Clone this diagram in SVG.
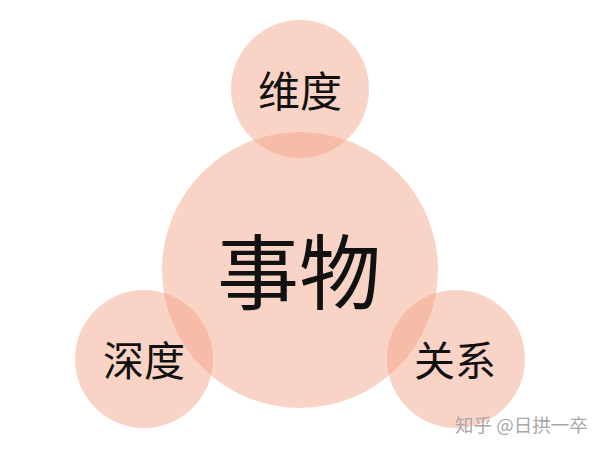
<svg xmlns="http://www.w3.org/2000/svg" width="600" height="450" viewBox="0 0 600 450">
<style>
.c{fill:#f2a485;fill-opacity:0.48}
.t{font-family:"Noto Sans CJK SC","Noto Sans CJK JP",sans-serif;fill:#111;text-anchor:middle;dominant-baseline:central}
.w{font-family:"Noto Sans CJK SC",sans-serif;fill:#a8a8a8;font-size:18.5px}
</style>
<rect width="600" height="450" fill="#ffffff"/>
<g id="connectors"></g>
<g id="node-main"><circle class="c" cx="300" cy="270" r="138"/></g>
<g id="node-top"><circle class="c" cx="300" cy="89" r="69"/><text class="t" x="300" y="88" font-size="42">维度</text></g>
<g id="node-left"><circle class="c" cx="144" cy="359" r="69"/><text class="t" x="144" y="358" font-size="41">深度</text></g>
<g id="node-right"><circle class="c" cx="456" cy="359" r="69"/><text class="t" x="455" y="358" font-size="41">关系</text></g>
<g id="node-main-label"><text class="t" x="299" y="267" font-size="82">事物</text></g>
<text class="w" x="455" y="432">知乎 @日拱一卒</text>
</svg>
